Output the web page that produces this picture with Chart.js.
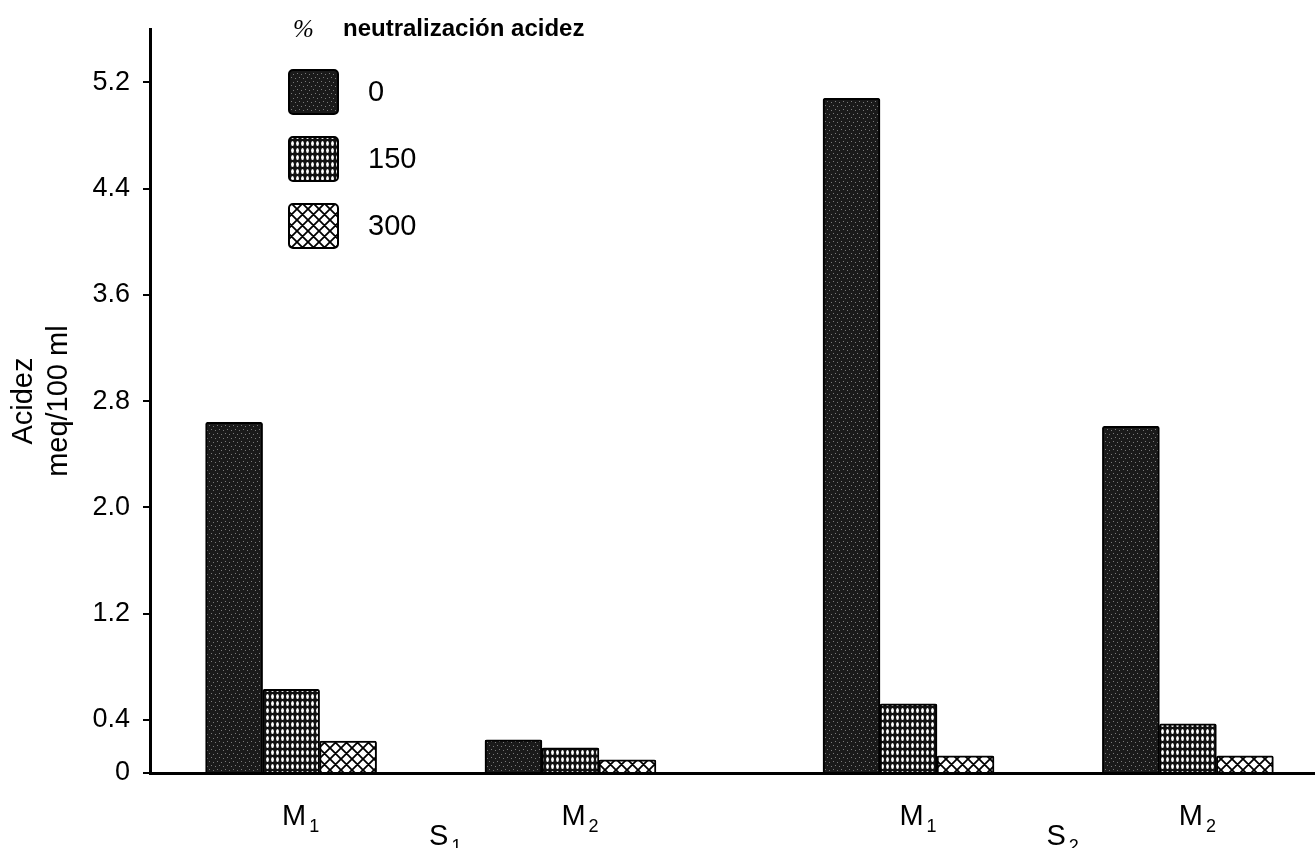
<!DOCTYPE html>
<html>
<head>
<meta charset="utf-8">
<script src="https://cdn.jsdelivr.net/npm/chart.js@4.4.0/dist/chart.umd.min.js"></script>
<style>
html, body { margin: 0; padding: 0; background: #fff; }
#wrap { width: 1315px; height: 848px; }
</style>
</head>
<body>
<div id="wrap"><canvas id="myChart" width="1315" height="848"></canvas></div>
<script>
// datos
const categorias = ['M1', 'M2', 'M1', 'M2'];
const suelos = ['S1', 'S2'];
const posiciones = [1, 2, 3.21, 4.21]; // separacion entre grupos (mayor entre S1 y S2)
const neutral0 = [2.64, 0.25, 5.08, 2.61];
const neutral150 = [0.63, 0.19, 0.52, 0.37];
const neutral300 = [0.24, 0.10, 0.13, 0.13];
const etiquetasSerie = ['0', '150', '300'];
const yTicks = [0, 0.4, 1.2, 2.0, 2.8, 3.6, 4.4, 5.2];
const tituloLeyenda = 'neutralización acidez';

const FUENTE = '"Liberation Sans", Arial, sans-serif';

// tramas de relleno
function patronOscuro() {
    const c = document.createElement('canvas');
    c.width = 8; c.height = 8;
    const g = c.getContext('2d');
    g.fillStyle = '#1a1a1a';
    g.fillRect(0, 0, 8, 8);
    g.fillStyle = '#7a7a7a';
    [[1, 1], [5, 2], [3, 5], [7, 6]].forEach(p => g.fillRect(p[0], p[1], 1, 1));
    return g.createPattern(c, 'repeat');
}

function patronMalla() {
    const c = document.createElement('canvas');
    c.width = 5; c.height = 7;
    const g = c.getContext('2d');
    g.fillStyle = '#111';
    g.fillRect(0, 0, 5, 7);
    g.fillStyle = '#fff';
    g.beginPath();
    g.ellipse(2.5, 3.5, 1.4, 2.5, 0, 0, Math.PI * 2);
    g.fill();
    return g.createPattern(c, 'repeat');
}

function patronCruzado() {
    const s = 11;
    const c = document.createElement('canvas');
    c.width = s; c.height = s;
    const g = c.getContext('2d');
    g.fillStyle = '#fff';
    g.fillRect(0, 0, s, s);
    g.strokeStyle = '#000';
    g.lineWidth = 1.8;
    g.beginPath();
    g.moveTo(0, 0); g.lineTo(s, s);
    g.moveTo(-2, s - 2); g.lineTo(2, s + 2);
    g.moveTo(s - 2, -2); g.lineTo(s + 2, 2);
    g.moveTo(0, s); g.lineTo(s, 0);
    g.moveTo(-2, 2); g.lineTo(2, -2);
    g.moveTo(s - 2, s + 2); g.lineTo(s + 2, s - 2);
    g.stroke();
    return g.createPattern(c, 'repeat');
}

function serie(valores) {
    return posiciones.map((x, i) => ({ x: x, y: valores[i] }));
}

function conSubindice(ctx, texto, cx, base, tam, tamSub) {
    const letra = texto.charAt(0);
    const sub = texto.slice(1);
    ctx.font = tam + 'px ' + FUENTE;
    const w = ctx.measureText(letra).width;
    ctx.textAlign = 'left';
    ctx.textBaseline = 'alphabetic';
    ctx.fillText(letra, cx - w / 2, base);
    ctx.font = tamSub + 'px ' + FUENTE;
    ctx.fillText(sub, cx + w / 2 + 3, base + 7);
}

// etiquetas M y S debajo del eje
const etiquetasX = {
    id: 'etiquetasX',
    afterDraw(chart) {
        const ctx = chart.ctx;
        const xs = chart.scales.x;
        ctx.save();
        ctx.fillStyle = '#000';
        categorias.forEach((c, i) => {
            conSubindice(ctx, c, xs.getPixelForValue(posiciones[i]) + 3, 825, 29, 18);
        });
        suelos.forEach((s, i) => {
            const medio = (posiciones[i * 2] + posiciones[i * 2 + 1]) / 2;
            conSubindice(ctx, s, xs.getPixelForValue(medio) + 8, 845, 29, 18);
        });
        ctx.restore();
    }
};

// leyenda dibujada a mano
const leyenda = {
    id: 'leyenda',
    afterDraw(chart) {
        const ctx = chart.ctx;
        ctx.save();
        ctx.fillStyle = '#000';
        ctx.textBaseline = 'middle';
        ctx.textAlign = 'left';
        ctx.font = 'italic 25px "Liberation Serif", serif';
        ctx.fillText('%', 293, 30);
        ctx.font = 'bold 24px ' + FUENTE;
        ctx.fillText(tituloLeyenda, 343, 29);
        chart.data.datasets.forEach((ds, i) => {
            const y = 70 + i * 67;
            ctx.beginPath();
            ctx.roundRect(289, y, 49, 44, 4);
            ctx.fillStyle = ds.backgroundColor;
            ctx.fill();
            ctx.lineWidth = 2;
            ctx.strokeStyle = '#000';
            ctx.stroke();
            ctx.fillStyle = '#000';
            ctx.font = '29px ' + FUENTE;
            ctx.fillText(ds.label, 368, y + 23);
        });
        ctx.restore();
    }
};

const ctx = document.getElementById('myChart').getContext('2d');
const myChart = new Chart(ctx, {
    type: 'bar',
    data: {
        datasets: [
            { label: etiquetasSerie[0], data: serie(neutral0), backgroundColor: patronOscuro(), borderColor: '#000', borderWidth: 2, borderRadius: 2 },
            { label: etiquetasSerie[1], data: serie(neutral150), backgroundColor: patronMalla(), borderColor: '#000', borderWidth: 2, borderRadius: 2 },
            { label: etiquetasSerie[2], data: serie(neutral300), backgroundColor: patronCruzado(), borderColor: '#000', borderWidth: 2, borderRadius: 2 }
        ]
    },
    options: {
        responsive: false,
        animation: false,
        layout: { padding: { top: 15, right: 0, left: 0, bottom: 0 } },
        datasets: { bar: { barThickness: 57 } },
        plugins: { legend: { display: false }, tooltip: { enabled: false } },
        scales: {
            x: {
                type: 'linear',
                min: 0.495,
                max: 4.665,
                offset: false,
                grid: { display: false, drawTicks: false },
                border: { display: true, color: '#000', width: 3 },
                ticks: { display: false },
                afterFit: s => { s.height = 75; }
            },
            y: {
                min: 0,
                max: 5.6,
                afterBuildTicks: s => { s.ticks = yTicks.map(v => ({ value: v })); },
                ticks: {
                    callback: v => v === 0 ? '0' : v.toFixed(1),
                    color: '#000',
                    font: { family: FUENTE, size: 27 },
                    padding: 13
                },
                grid: { drawOnChartArea: false, tickLength: 7, color: '#000', lineWidth: 2 },
                border: { color: '#000', width: 3 },
                title: {
                    display: true,
                    text: ['Acidez', 'meq/100 ml'],
                    color: '#000',
                    font: { family: FUENTE, size: 29, lineHeight: 1.2 },
                    padding: { top: 7, bottom: 0 }
                },
                afterFit: s => { s.width = 150; }
            }
        }
    },
    plugins: [etiquetasX, leyenda]
});
</script>
</body>
</html>
